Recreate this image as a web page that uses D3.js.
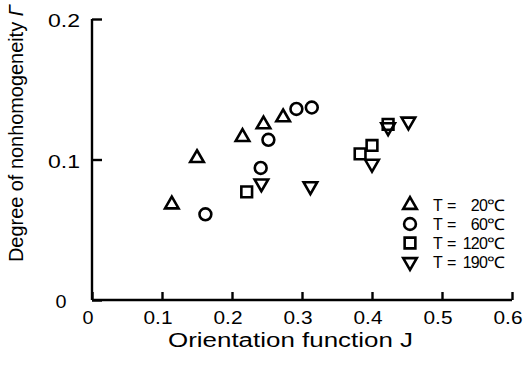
<!DOCTYPE html>
<html><head><meta charset="utf-8">
<script src="https://cdn.jsdelivr.net/npm/d3@7/dist/d3.min.js"></script>
<style>
html,body{margin:0;padding:0;background:#fff;}
svg{display:block;font-family:"Liberation Sans",Arial,sans-serif;}
</style></head>
<body>
<svg id="c" width="525" height="375"></svg>
<script>
// Data
const xTicks = [0, 0.1, 0.2, 0.3, 0.4, 0.5, 0.6];
const xTickLabels = ["0", "0.1", "0.2", "0.3", "0.4", "0.5", "0.6"];
const yTicks = [0, 0.1, 0.2];
const yTickLabels = ["0", "0.1", "0.2"];

const j20 = [0.114, 0.150, 0.215, 0.245, 0.273];
const g20 = [0.068, 0.101, 0.116, 0.125, 0.130];
const j60 = [0.162, 0.241, 0.252, 0.292, 0.314];
const g60 = [0.061, 0.094, 0.114, 0.136, 0.137];
const j120 = [0.221, 0.383, 0.400, 0.423];
const g120 = [0.077, 0.104, 0.110, 0.125];
const j190 = [0.242, 0.312, 0.400, 0.423, 0.452];
const g190 = [0.083, 0.081, 0.097, 0.123, 0.127];

const legendNums = ["20", "60", "120", "190"];
const seriesNames = ["tri", "circ", "sq", "dtri"];

const svg = d3.select("#c");
const x = d3.scaleLinear().domain([0, 0.6]).range([92, 512]);
const y = d3.scaleLinear().domain([0, 0.2]).range([300, 19]);

// axes
const xAxis = d3.axisTop(x).tickValues(xTicks).tickSize(8).tickFormat("");
const gx = svg.append("g").attr("transform", `translate(0,${y(0)})`).call(xAxis);
const yAxis = d3.axisRight(y).tickValues(yTicks).tickSize(10).tickFormat("");
const gy = svg.append("g").attr("transform", `translate(${x(0)},0)`).call(yAxis);
[gx, gy].forEach(g => {
  g.select(".domain").attr("stroke", "#000").attr("stroke-width", 2.4);
  g.selectAll(".tick line").attr("stroke", "#000").attr("stroke-width", 2.4);
});
gx.select(".domain").attr("d", `M${x(0)},0H${x(0.6)}`);
gy.select(".domain").attr("d", `M0,${y(0)}V${y(0.2)}`);

// x tick labels
svg.append("g").selectAll("text").data(xTicks).join("text")
  .attr("x", d => x(d) - 4).attr("y", 324)
  .attr("text-anchor", "middle").attr("font-size", 19)
  .attr("textLength", d => d === 0 ? 11 : 29).attr("lengthAdjust", "spacingAndGlyphs")
  .text((d, i) => xTickLabels[i]);

// y tick labels
svg.append("g").selectAll("text").data(yTicks).join("text")
  .attr("x", d => d === 0 ? 61 : 64).attr("y", d => y(d) + 8)
  .attr("text-anchor", "middle").attr("font-size", 19)
  .attr("textLength", d => d === 0 ? 11 : 32).attr("lengthAdjust", "spacingAndGlyphs")
  .text((d, i) => yTickLabels[i]);

// axis titles
svg.append("text").attr("x", 168).attr("y", 347).attr("font-size", 20)
  .attr("textLength", 245).attr("lengthAdjust", "spacingAndGlyphs")
  .text("Orientation function J");
const yt = svg.append("text").attr("transform", "translate(23,262) rotate(-90)")
  .attr("font-size", 21).attr("textLength", 257).attr("lengthAdjust", "spacingAndGlyphs");
yt.append("tspan").text("Degree of nonhomogeneity ");
yt.append("tspan").attr("font-style", "italic").text("Γ");

// markers
function sym(name) {
  if (name === "tri") return d3.symbol(d3.symbolTriangle, 80)();
  if (name === "dtri") return d3.symbol(d3.symbolTriangle, 80)();
  if (name === "circ") return d3.symbol(d3.symbolCircle, 110)();
  return d3.symbol(d3.symbolSquare, 115)();
}
const sets = [
  {name: "tri", j: j20, g: g20},
  {name: "circ", j: j60, g: g60},
  {name: "sq", j: j120, g: g120},
  {name: "dtri", j: j190, g: g190}
];
sets.forEach(s => {
  svg.append("g").selectAll("path").data(s.j.map((v, i) => [v, s.g[i]])).join("path")
    .attr("d", sym(s.name))
    .attr("transform", d => `translate(${x(d[0])},${y(d[1])})` + (s.name === "dtri" ? " rotate(180)" : ""))
    .attr("fill", "none").attr("stroke", "#000").attr("stroke-width", 2.6);
});

// legend
const lg = svg.append("g");
seriesNames.forEach((n, i) => {
  const cy = 205 + i * 19;
  lg.append("path").attr("d", sym(n))
    .attr("transform", `translate(410,${cy})` + (n === "dtri" ? " rotate(180)" : ""))
    .attr("fill", "none").attr("stroke", "#000").attr("stroke-width", 2.6);
  lg.append("text").attr("x", 433).attr("y", cy + 6).attr("font-size", 16).text("T =");
  lg.append("text").attr("x", 487).attr("y", cy + 6).attr("font-size", 16)
    .attr("text-anchor", "end").attr("letter-spacing", -0.8).text(legendNums[i]);
  lg.append("text").attr("x", 487).attr("y", cy + 6).attr("font-size", 16)
    .attr("textLength", 18).attr("lengthAdjust", "spacingAndGlyphs").text("℃");
});
</script>
</body></html>
